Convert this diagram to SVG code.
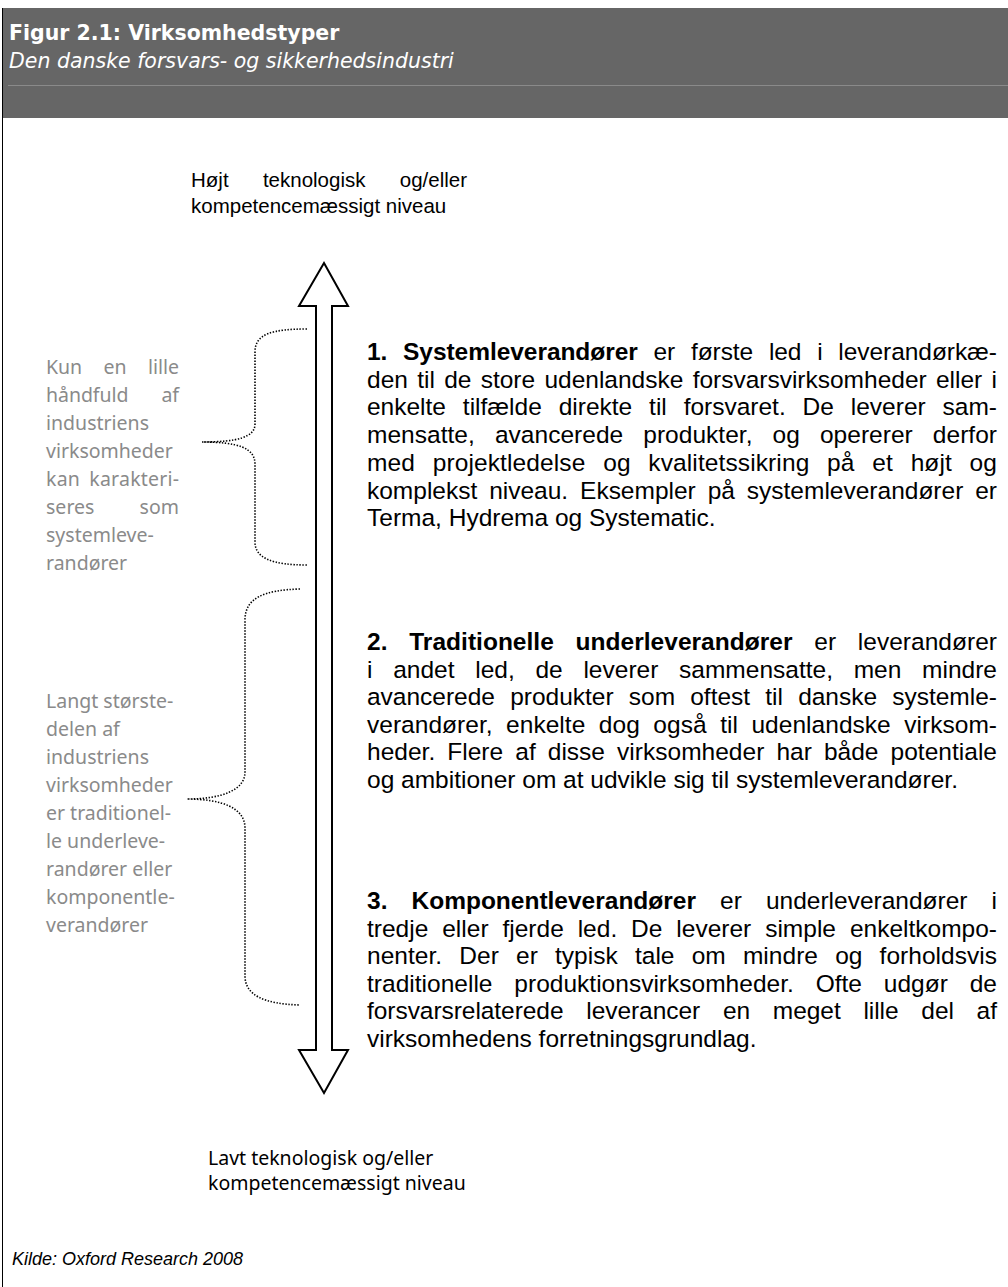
<svg xmlns="http://www.w3.org/2000/svg" width="1008" height="1287" viewBox="0 0 1008 1287">
<style>
.title{font-family:"DejaVu Sans",Verdana,sans-serif;font-weight:bold;font-size:20.5px;fill:#ffffff}
.sub{font-family:"DejaVu Sans",Verdana,sans-serif;font-style:italic;font-size:20.5px;fill:#ffffff}
.body{font-family:"Liberation Sans",Arial,sans-serif;font-size:24.5px;fill:#000000}
.bold{font-weight:bold}
.gray{font-family:"Noto Sans","Open Sans",sans-serif;font-size:19.5px;fill:#8a8a8a}
.axis{font-family:"Noto Sans","Open Sans",sans-serif;font-size:19.5px;fill:#000000}
.high{font-family:"Liberation Sans",Arial,sans-serif;font-size:20.5px;fill:#000000}
.src{font-family:"Liberation Sans",Arial,sans-serif;font-style:italic;font-size:18px;fill:#000000}
.brace{fill:none;stroke:#000000;stroke-width:1.6;stroke-dasharray:1.4 1.6}
</style>
<rect width="1008" height="1287" fill="#ffffff"/>
<g id="header">
<rect x="2" y="8" width="1006" height="110" fill="#666666"/>
<line x1="8" y1="85.5" x2="1008" y2="85.5" stroke="#8a8a8a" stroke-width="1"/>
<text class="title" x="9" y="40">Figur 2.1: Virksomhedstyper</text>
<text class="sub" x="9" y="68">Den danske forsvars- og sikkerhedsindustri</text>
</g>
<line id="frame" x1="2.5" y1="8" x2="2.5" y2="1287" stroke="#000000" stroke-width="1"/>
<g id="high-label">
<text class="high" x="191" y="187" word-spacing="28.6" textLength="276" lengthAdjust="spacing">Højt teknologisk og/eller</text>
<text class="high" x="191" y="213">kompetencemæssigt niveau</text>
</g>
<g id="arrow">
<polygon points="324,263 348,306 332,306 332,1050 348,1050 324,1093 299,1050 316,1050 316,306 299,306" fill="#ffffff" stroke="#000000" stroke-width="2" stroke-linejoin="miter"/>
</g>
<g id="connectors">
<path class="brace" d="M307,329 C272,329 255,334 255,352 L255,424 C255,437 238,442 202,442 C238,442 255,448 255,464 L255,542 C255,558 272,565 307,565"/>
<path class="brace" d="M300,589 C264,590 245,598 245,620 L245,772 C245,790 222,799 187,799 C222,799 245,808 245,828 L245,976 C245,995 264,1004 300,1005"/>
</g>
<g id="upper-note">
<text class="gray" x="46" y="374" word-spacing="16.5" textLength="133" lengthAdjust="spacing">Kun en lille</text>
<text class="gray" x="46" y="402" word-spacing="28" textLength="133" lengthAdjust="spacing">håndfuld af</text>
<text class="gray" x="46" y="430">industriens</text>
<text class="gray" x="46" y="458">virksomheder</text>
<text class="gray" x="46" y="486" word-spacing="4" textLength="133" lengthAdjust="spacing">kan karakteri-</text>
<text class="gray" x="46" y="514" word-spacing="40" textLength="133" lengthAdjust="spacing">seres som</text>
<text class="gray" x="46" y="542">systemleve-</text>
<text class="gray" x="46" y="570">randører</text>
</g>
<g id="lower-note">
<text class="gray" x="46" y="708">Langt største-</text>
<text class="gray" x="46" y="736">delen af</text>
<text class="gray" x="46" y="764">industriens</text>
<text class="gray" x="46" y="792">virksomheder</text>
<text class="gray" x="46" y="820">er traditionel-</text>
<text class="gray" x="46" y="848">le underleve-</text>
<text class="gray" x="46" y="876">randører eller</text>
<text class="gray" x="46" y="904">komponentle-</text>
<text class="gray" x="46" y="932">verandører</text>
</g>
<g id="block1">
<text class="body" x="367" y="360" word-spacing="9" textLength="630" lengthAdjust="spacing"><tspan class="bold">1. Systemleverandører</tspan> er første led i leverandørkæ-</text>
<text class="body" x="367" y="387.7" word-spacing="2.5" textLength="630" lengthAdjust="spacing">den til de store udenlandske forsvarsvirksomheder eller i</text>
<text class="body" x="367" y="415.4" word-spacing="10.1" textLength="630" lengthAdjust="spacing">enkelte tilfælde direkte til forsvaret. De leverer sam-</text>
<text class="body" x="367" y="443.1" word-spacing="13.2" textLength="630" lengthAdjust="spacing">mensatte, avancerede produkter, og opererer derfor</text>
<text class="body" x="367" y="470.8" word-spacing="10.8" textLength="630" lengthAdjust="spacing">med projektledelse og kvalitetssikring på et højt og</text>
<text class="body" x="367" y="498.5" word-spacing="5.1" textLength="630" lengthAdjust="spacing">komplekst niveau. Eksempler på systemleverandører er</text>
<text class="body" x="367" y="526.2">Terma, Hydrema og Systematic.</text>
</g>
<g id="block2">
<text class="body" x="367" y="650" word-spacing="14.9" textLength="630" lengthAdjust="spacing"><tspan class="bold">2. Traditionelle underleverandører</tspan> er leverandører</text>
<text class="body" x="367" y="677.6" word-spacing="13.9" textLength="630" lengthAdjust="spacing">i andet led, de leverer sammensatte, men mindre</text>
<text class="body" x="367" y="705.2" word-spacing="8.4" textLength="630" lengthAdjust="spacing">avancerede produkter som oftest til danske systemle-</text>
<text class="body" x="367" y="732.8" word-spacing="6.7" textLength="630" lengthAdjust="spacing">verandører, enkelte dog også til udenlandske virksom-</text>
<text class="body" x="367" y="760.4" word-spacing="5.2" textLength="630" lengthAdjust="spacing">heder. Flere af disse virksomheder har både potentiale</text>
<text class="body" x="367" y="788">og ambitioner om at udvikle sig til systemleverandører.</text>
</g>
<g id="block3">
<text class="body" x="367" y="909" word-spacing="17.3" textLength="630" lengthAdjust="spacing"><tspan class="bold">3. Komponentleverandører</tspan> er underleverandører i</text>
<text class="body" x="367" y="936.6" word-spacing="7.1" textLength="630" lengthAdjust="spacing">tredje eller fjerde led. De leverer simple enkeltkompo-</text>
<text class="body" x="367" y="964.2" word-spacing="10.3" textLength="630" lengthAdjust="spacing">nenter. Der er typisk tale om mindre og forholdsvis</text>
<text class="body" x="367" y="991.8" word-spacing="15" textLength="630" lengthAdjust="spacing">traditionelle produktionsvirksomheder. Ofte udgør de</text>
<text class="body" x="367" y="1019.4" word-spacing="16" textLength="630" lengthAdjust="spacing">forsvarsrelaterede leverancer en meget lille del af</text>
<text class="body" x="367" y="1047">virksomhedens forretningsgrundlag.</text>
</g>
<g id="low-label">
<text class="axis" x="208" y="1165">Lavt teknologisk og/eller</text>
<text class="axis" x="208" y="1190">kompetencemæssigt niveau</text>
</g>
<text id="source" class="src" x="12" y="1265">Kilde: Oxford Research 2008</text>
</svg>
